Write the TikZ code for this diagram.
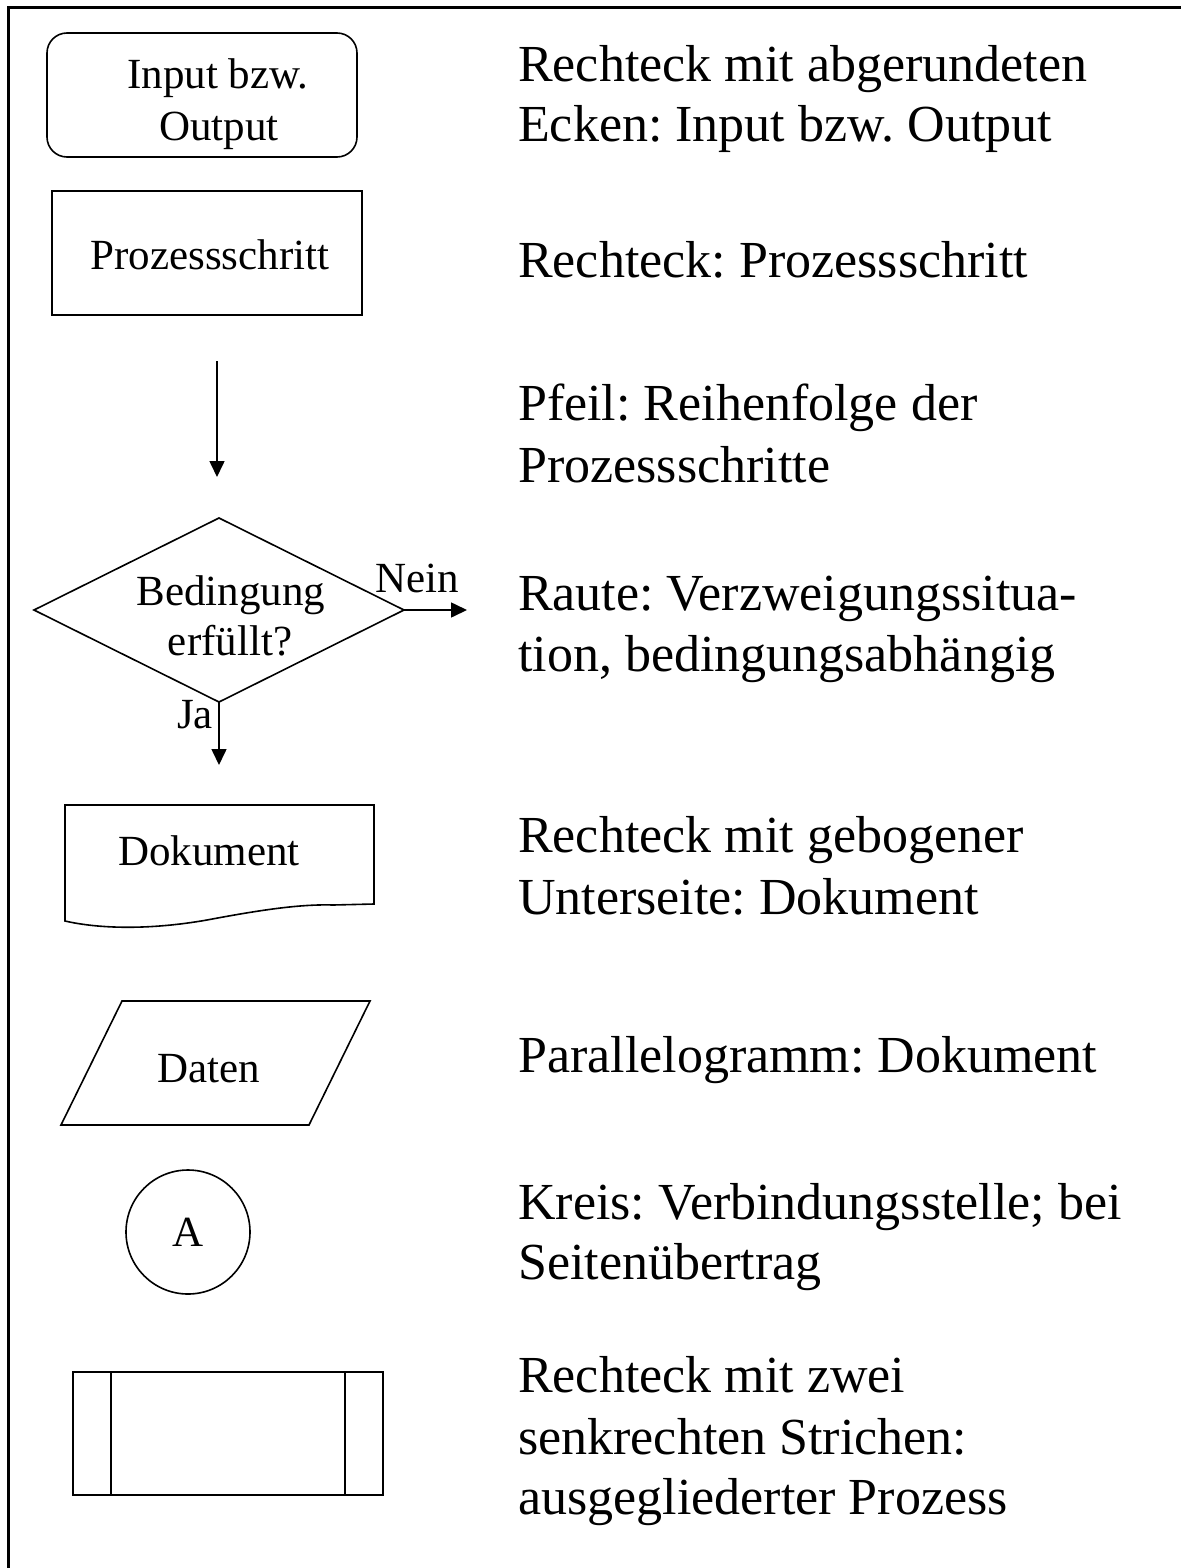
\documentclass[tikz,border=0pt]{standalone}
\usepackage{fontspec}
\setmainfont{Liberation Serif}
\usetikzlibrary{arrows.meta,shapes.geometric}
\frenchspacing
\begin{document}
\begin{tikzpicture}[x=1pt,y=-1pt,
  shp/.style={draw, line width=1.6pt, inner sep=0pt, outer sep=0pt},
  small/.style={font=\fontsize{43}{50}\selectfont, inner sep=0pt, anchor=base},
  big/.style={font=\fontsize{52}{60}\selectfont, inner sep=0pt, anchor=base west},
  arr/.style={line width=1.6pt, -{Triangle[length=16pt,width=15pt]}}]
\useasboundingbox (0,0) rectangle (1181,1568);
% frame
\draw[line width=3pt] (8,1568) -- (8,8) -- (1181,8);

% 1 rounded rectangle
\node[shp, rounded corners=20pt, minimum width=310pt, minimum height=124pt] (io) at (202,95) {};
\node[small] (iot1) at (218,89) {Input bzw.};
\node[small] (iot2) at (219,141) {Output};

% 2 rectangle
\node[shp, minimum width=310pt, minimum height=124pt] (proc) at (207,253) {};
\node[small] (proct) at (210,269) {Prozessschritt};

% 3 arrow
\coordinate (a1) at (217,361);
\coordinate (a2) at (217,477);
\draw[arr] (a1) -- (a2);

% 4 diamond
\node[shp, diamond, minimum width=370pt, minimum height=184pt] (dec) at (219,610) {};
\node[small] (dect1) at (231,605) {Bedingung};
\node[small] (dect2) at (230,655) {erfüllt?};
\coordinate (neinend) at (467,610);
\coordinate (jaend) at (219,765);
\draw[arr] (dec.east) -- (neinend);
\draw[arr] (dec.south) -- (jaend);
\node[small] (nein) at (417,592) {Nein};
\node[small] (ja) at (195,728) {Ja};

% 5 document
\draw[line width=1.6pt] (65,921) -- (65,805) -- (374,805) -- (374,904) -- (333,905)
  .. controls (300,904) and (260,910) .. (207,920)
  .. controls (150,930) and (100,929) .. (65,921) -- cycle;
\node[small] (dok) at (209,865) {Dokument};

% 6 parallelogram
\draw[line width=1.6pt] (122,1001) -- (370,1001) -- (309,1125) -- (61,1125) -- cycle;
\node[small] (daten) at (209,1082) {Daten};

% 7 circle
\node[shp, circle, minimum size=124pt] (con) at (188,1232) {};
\node[small] (cona) at (188,1246) {A};

% 8 subprocess
\node[shp, minimum width=310pt, minimum height=123pt] (sub) at (228,1433.5) {};
\draw[line width=1.6pt] (111,1372) -- (111,1495);
\draw[line width=1.6pt] (345,1372) -- (345,1495);

% right column texts
\node[big] (r1) at (518,82) {Rechteck mit abgerundeten};
\node[big] (r2) at (518,142) {Ecken: Input bzw. Output};
\node[big] (r3) at (518,277) {Rechteck: Prozessschritt};
\node[big] (r4) at (518,420) {Pfeil: Reihenfolge der};
\node[big] (r5) at (518,482) {Prozessschritte};
\node[big] (r6) at (518,610) {Raute: Verzweigungssitua-};
\node[big] (r7) at (518,671) {tion, bedingungsabhängig};
\node[big] (r8) at (518,852) {Rechteck mit gebogener};
\node[big] (r9) at (518,914) {Unterseite: Dokument};
\node[big] (r10) at (518,1072) {Parallelogramm: Dokument};
\node[big] (r11) at (518,1219) {Kreis: Verbindungsstelle; bei};
\node[big] (r12) at (518,1279) {Seitenübertrag};
\node[big] (r13) at (518,1392) {Rechteck mit zwei};
\node[big] (r14) at (518,1454) {senkrechten Strichen:};
\node[big] (r15) at (518,1514) {ausgegliederter Prozess};
\end{tikzpicture}
\end{document}
